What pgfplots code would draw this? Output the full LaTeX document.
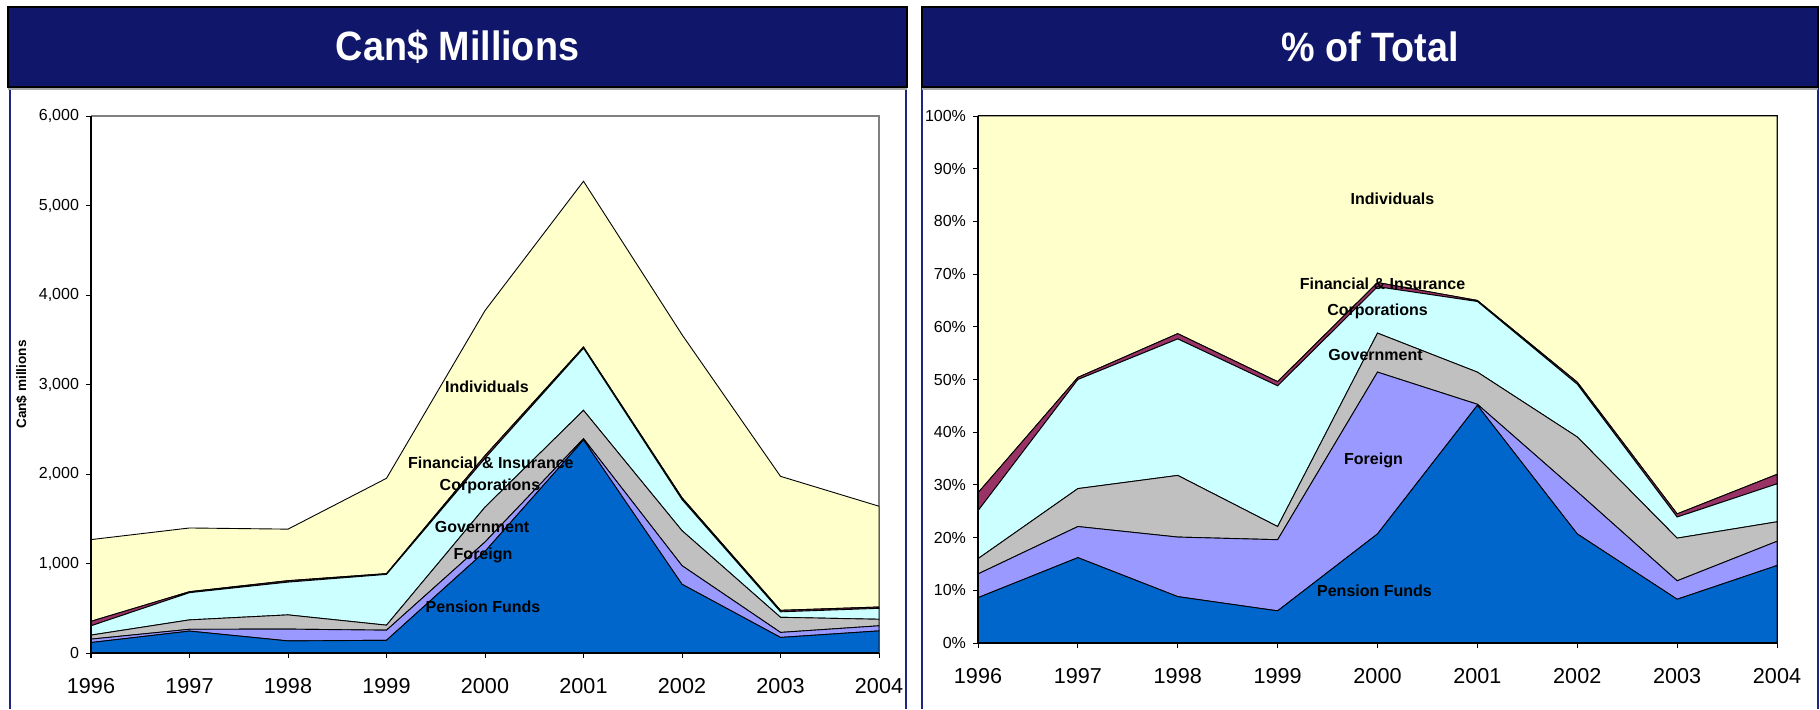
\documentclass[border=0pt]{standalone}
\usepackage{pgfplots}
\pgfplotsset{compat=1.18}
\usepackage{pgfplotstable}
\usepackage{fontspec}
\setmainfont{Liberation Sans}
\newfontfamily\titlefont[FakeStretch=0.92]{Liberation Sans}

\definecolor{cpen}{HTML}{0066CC}
\definecolor{cfor}{HTML}{9999FF}
\definecolor{cgov}{HTML}{C0C0C0}
\definecolor{ccor}{HTML}{CCFFFF}
\definecolor{cfin}{HTML}{993366}
\definecolor{cind}{HTML}{FFFFCC}
\definecolor{navy}{HTML}{10176A}
\definecolor{navyline}{HTML}{1F2580}

\pgfplotstableread{
year pen for gov cor fin ind
1996 117 38 45 104 50 913
1997 245 20 105 304 11 712
1998 135 132 159 366 16 576
1999 142 113 56 567 9 1065
2000 1135 105 390 545 30 1621
2001 2380 15 316 694 14 1852
2002 768 208 391 347 21 1822
2003 174 56 169 61 17 1497
2004 247 57 73 122 15 1126
}\absdata

\pgfplotstableread{
year pen for gov cor fin ind
1996 8.6 4.5 2.9 9.1 3.4 71.5
1997 16.2 5.9 7.2 20.7 0.4 49.6
1998 8.8 11.3 11.7 25.9 1.0 41.3
1999 6.1 13.5 2.5 26.7 0.8 50.4
2000 20.7 30.7 7.4 8.8 0.8 31.6
2001 45.1 0.2 6.1 13.4 0.2 35.0
2002 20.7 8.0 10.4 10.0 0.4 50.5
2003 8.3 3.5 8.1 4.0 0.6 75.5
2004 14.7 4.6 3.7 7.2 1.8 68.0
}\pctdata

\tikzset{lab/.style={font=\fontsize{8}{9}\selectfont\bfseries, anchor=center, inner sep=0pt}}

\pgfplotsset{
  panel/.style={
    scale only axis,
    anchor=south west,
    xmin=1996, xmax=2004,
    ymin=0,
    stack plots=y,
    area style,
    axis x line=bottom, axis y line=left,
    axis line style={-, black, line width=0.6pt},
    axis on top=true,
    tick align=outside,
    major tick length=2.5pt,
    tick style={black, line width=0.5pt},
    xtick={1996,1997,1998,1999,2000,2001,2002,2003,2004},
    x tick label style={font=\fontsize{10.8}{12}\selectfont, /pgf/number format/1000 sep={}, yshift=-6.5pt},
    y tick label style={font=\fontsize{8}{9}\selectfont},
    /pgf/number format/assume math mode=true,
    scaled y ticks=false,
    clip=false,
    every axis plot/.append style={draw=black, line width=0.45pt},
  },
}

\begin{document}
\begin{tikzpicture}
\useasboundingbox (0,0) rectangle (910pt,354.5pt);
\fill[white] (0,0) rectangle (910pt,354.5pt);

% panel borders
\draw[navyline, line width=1.4pt] (5pt,0) -- (5pt,311pt);
\draw[navyline, line width=1.4pt] (453pt,0) -- (453pt,311pt);
\draw[navyline, line width=1.4pt] (461pt,0) -- (461pt,311pt);
\draw[navyline, line width=1.4pt] (909pt,0) -- (909pt,311pt);

% title bars
\draw[gray!70, line width=1pt] (4pt,310pt) -- (453.5pt,310pt);
\draw[gray!70, line width=1pt] (461pt,310pt) -- (909pt,310pt);
\filldraw[fill=navy, draw=black, line width=1.2pt] (4pt,311pt) rectangle (453.5pt,351pt);
\filldraw[fill=navy, draw=black, line width=1.2pt] (461pt,311pt) rectangle (909pt,351pt);
\node[text=white, font=\titlefont\fontsize{20.5}{24}\selectfont\bfseries] at (228.75pt,331pt) {Can\$ Millions};
\node[text=white, font=\titlefont\fontsize{20.5}{24}\selectfont\bfseries] at (685pt,331pt) {\% of Total};

% left chart
\begin{axis}[panel,
  at={(45.5pt,28pt)}, width=394pt, height=268.5pt,
  ymax=6000,
  ytick={0,1000,2000,3000,4000,5000,6000},
  y tick label style={/pgf/number format/1000 sep={,}},
]
\addplot[fill=cpen] table[x=year,y=pen]{\absdata} \closedcycle;
\addplot[fill=cfor] table[x=year,y=for]{\absdata} \closedcycle;
\addplot[fill=cgov] table[x=year,y=gov]{\absdata} \closedcycle;
\addplot[fill=ccor] table[x=year,y=cor]{\absdata} \closedcycle;
\addplot[fill=cfin] table[x=year,y=fin]{\absdata} \closedcycle;
\addplot[fill=cind] table[x=year,y=ind]{\absdata} \closedcycle;
\draw[gray, line width=0.6pt] (rel axis cs:0,1) -- (rel axis cs:1,1) -- (rel axis cs:1,0);
\coordinate (L1) at (axis cs:2000.02,2975);
\coordinate (L2) at (axis cs:2000.06,2130);
\coordinate (L3) at (axis cs:2000.05,1860);
\coordinate (L4) at (axis cs:1999.97,1410);
\coordinate (L5) at (axis cs:1999.98,1088);
\coordinate (L6) at (axis cs:1999.98,517);
\node[rotate=90, font=\fontsize{6.8}{8}\selectfont\bfseries] at (rel axis cs:-0.088,0.5) {Can\$ millions};
\end{axis}

% right chart
\begin{axis}[panel,
  at={(489pt,33pt)}, width=399.5pt, height=263.5pt,
  ymax=100,
  ytick={0,10,20,30,40,50,60,70,80,90,100},
  yticklabel={\pgfmathprintnumber{\tick}\%},
]
\addplot[fill=cpen] table[x=year,y=pen]{\pctdata} \closedcycle;
\addplot[fill=cfor] table[x=year,y=for]{\pctdata} \closedcycle;
\addplot[fill=cgov] table[x=year,y=gov]{\pctdata} \closedcycle;
\addplot[fill=ccor] table[x=year,y=cor]{\pctdata} \closedcycle;
\addplot[fill=cfin] table[x=year,y=fin]{\pctdata} \closedcycle;
\addplot[fill=cind] table[x=year,y=ind]{\pctdata} \closedcycle;
\draw[black, line width=0.6pt] (rel axis cs:0,1) -- (rel axis cs:1,1) -- (rel axis cs:1,0);
\coordinate (R1) at (axis cs:2000.15,84.2);
\coordinate (R2) at (axis cs:2000.05,68.2);
\coordinate (R3) at (axis cs:2000.0,63.0);
\coordinate (R4) at (axis cs:1999.98,54.6);
\coordinate (R5) at (axis cs:1999.96,34.6);
\coordinate (R6) at (axis cs:1999.97,10.0);
\end{axis}

\node[lab] at (L1) {Individuals};
\node[lab] at (L2) {Financial \& Insurance};
\node[lab] at (L3) {Corporations};
\node[lab] at (L4) {Government};
\node[lab] at (L5) {Foreign};
\node[lab] at (L6) {Pension Funds};
\node[lab] at (R1) {Individuals};
\node[lab] at (R2) {Financial \& Insurance};
\node[lab] at (R3) {Corporations};
\node[lab] at (R4) {Government};
\node[lab] at (R5) {Foreign};
\node[lab] at (R6) {Pension Funds};
\end{tikzpicture}
\end{document}
